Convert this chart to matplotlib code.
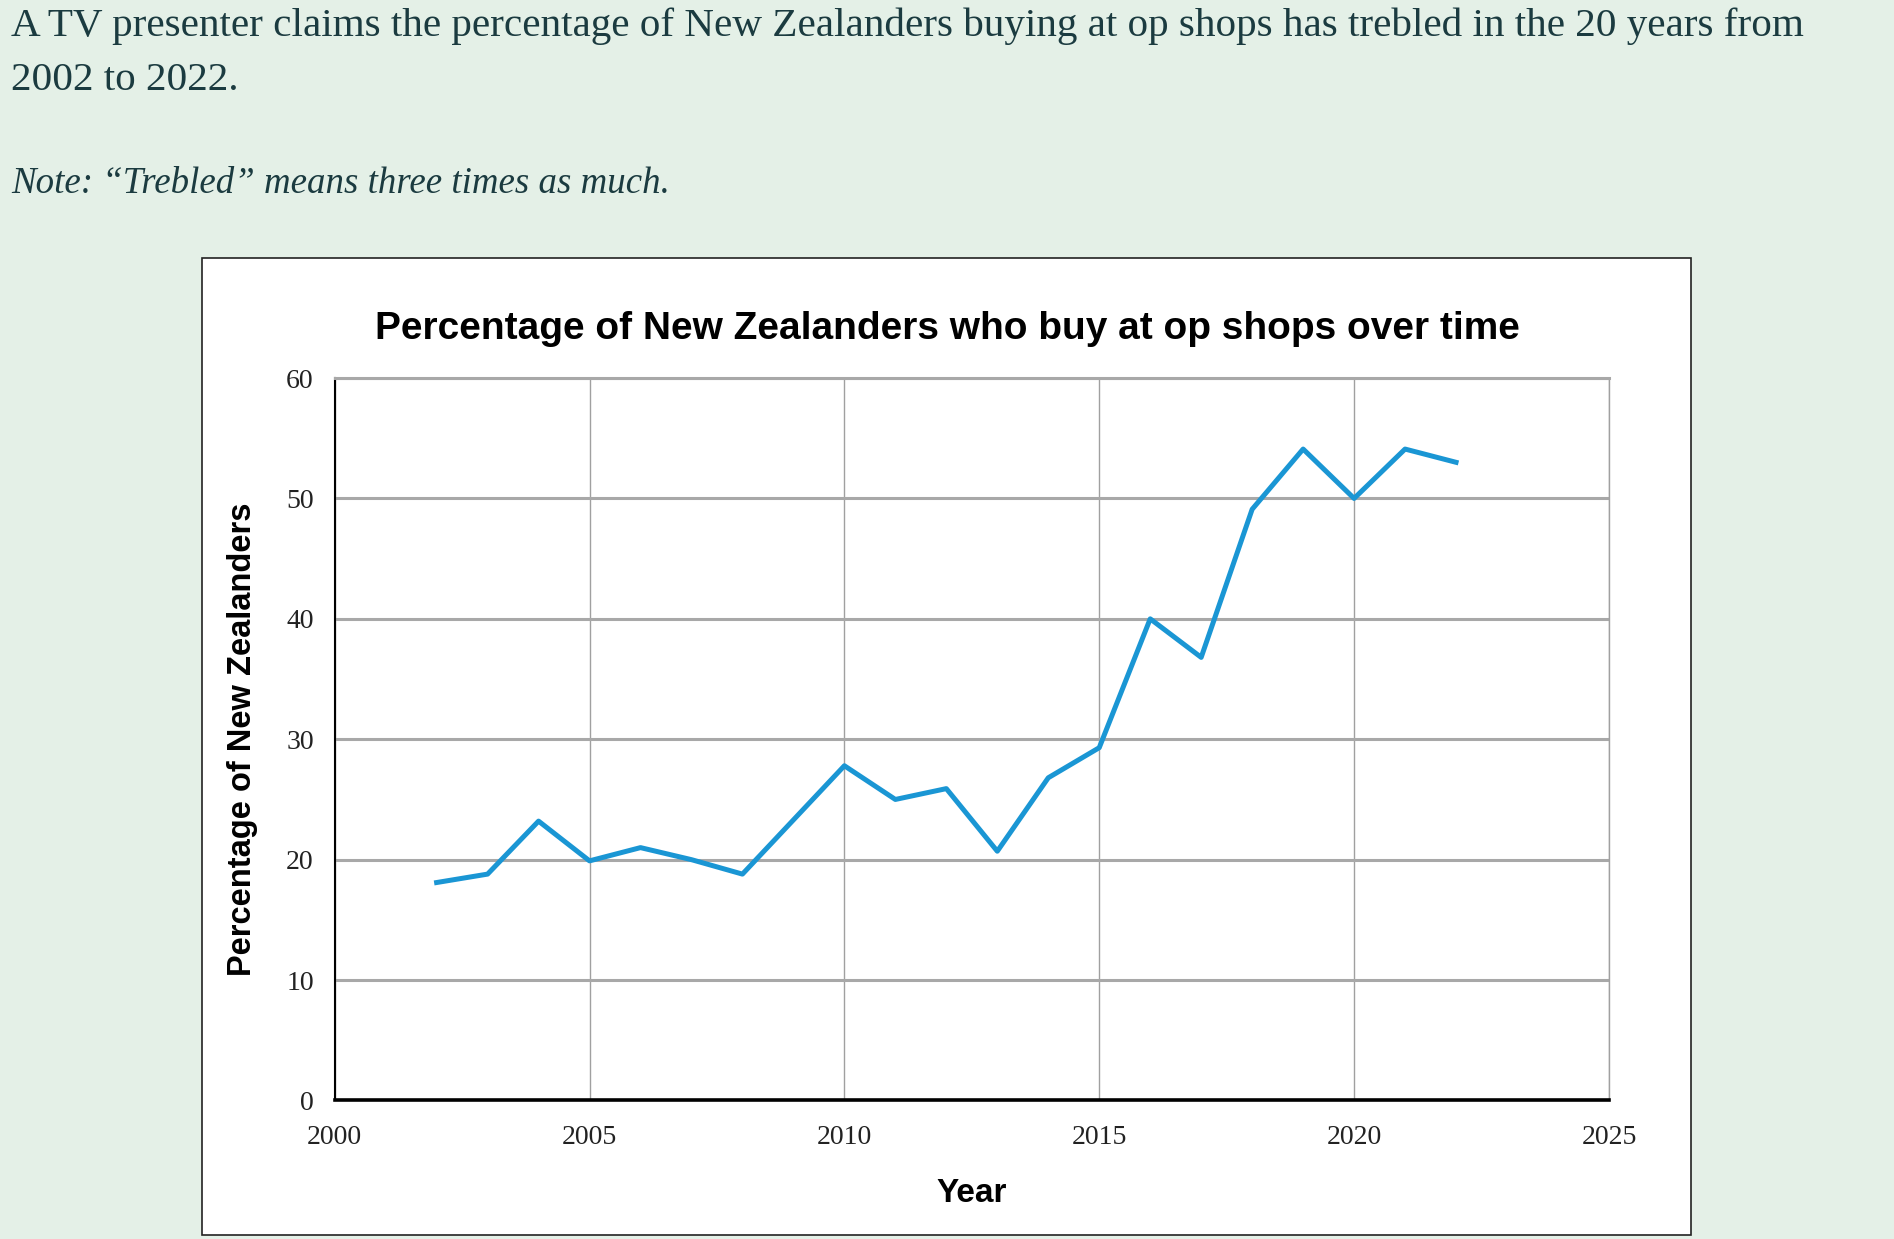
import matplotlib.pyplot as plt
from matplotlib.patches import Rectangle

# Data
years = [2002, 2003, 2004, 2005, 2006, 2007, 2008, 2009, 2010, 2011, 2012,
         2013, 2014, 2015, 2016, 2017, 2018, 2019, 2020, 2021, 2022]
percent = [18.1, 18.8, 23.2, 19.9, 21.0, 20.0, 18.8, 23.3, 27.8, 25.0, 25.9,
           20.7, 26.8, 29.3, 40.0, 36.8, 49.1, 54.1, 50.0, 54.1, 53.0]
x_ticks = [2000, 2005, 2010, 2015, 2020, 2025]
y_ticks = [0, 10, 20, 30, 40, 50, 60]

bg = '#e4f0e7'
text_col = '#1b3b40'

fig = plt.figure(figsize=(18.94, 12.39), dpi=100)
fig.patch.set_facecolor(bg)

# Intro text above the chart
fig.text(0.006, 0.971, "A TV presenter claims the percentage of New Zealanders buying at op shops has trebled in the 20 years from",
         family='Liberation Serif', fontsize=29.6, color=text_col, va='baseline')
fig.text(0.006, 0.927, "2002 to 2022.",
         family='Liberation Serif', fontsize=29.6, color=text_col, va='baseline')
fig.text(0.006, 0.844, "Note: \u201cTrebled\u201d means three times as much.",
         family='Liberation Serif', fontsize=26.6, style='italic', color=text_col, va='baseline')

# White box holding the chart (drawn behind the axes)
fig.patches.append(Rectangle((0.1066, 0.003), 0.7862, 0.7888, transform=fig.transFigure,
                             facecolor='white', edgecolor='#222222', linewidth=1.2, zorder=-10))

ax = fig.add_axes([0.1767, 0.1118, 0.6728, 0.5831])
ax.set_facecolor('white')
ax.plot(years, percent, color='#1a96d4', linewidth=3.6, zorder=3)

ax.set_xlim(2000, 2025)
ax.set_ylim(0, 60)
ax.set_xticks(x_ticks)
ax.set_yticks(y_ticks)
ax.tick_params(length=0, labelsize=20)
ax.tick_params(axis='y', pad=15)
ax.tick_params(axis='x', pad=18)
for lbl in ax.get_xticklabels() + ax.get_yticklabels():
    lbl.set_family('Liberation Serif')
    lbl.set_color('#222222')

ax.grid(axis='y', color='#a8a8a8', linewidth=2.2)
ax.grid(axis='x', color='#a0a0a0', linewidth=1.0)
ax.set_axisbelow(True)

ax.spines['top'].set_color('#a8a8a8')
ax.spines['top'].set_linewidth(2.2)
ax.spines['right'].set_color('#a0a0a0')
ax.spines['right'].set_linewidth(1.0)
ax.spines['left'].set_color('black')
ax.spines['left'].set_linewidth(1.5)
ax.spines['bottom'].set_color('black')
ax.spines['bottom'].set_linewidth(2.6)

ax.set_title("Percentage of New Zealanders who buy at op shops over time",
             family='Liberation Sans', fontweight='bold', fontsize=28, pad=28, x=0.481)
ax.set_xlabel("Year", family='Liberation Sans', fontweight='bold', fontsize=24, labelpad=20)
ax.set_ylabel("Percentage of New Zealanders", family='Liberation Sans', fontweight='bold',
              fontsize=23.5, labelpad=20)

fig.savefig('out.png', dpi=100, facecolor=bg)
